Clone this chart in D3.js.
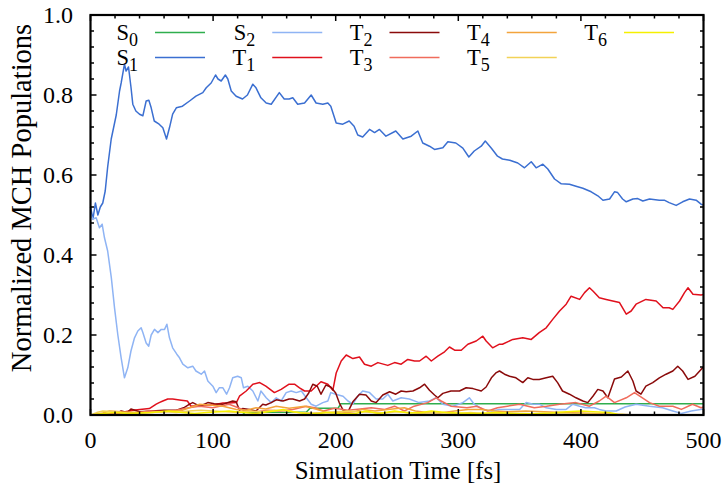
<!DOCTYPE html>
<html><head><meta charset="utf-8">
<script src="https://cdn.jsdelivr.net/npm/d3@7"></script>
<style>body{margin:0;background:#fff}svg{display:block}</style>
</head><body><svg id="c" width="725" height="489" font-family="'Liberation Serif', Tinos, 'Times New Roman', Times, 'Nimbus Roman', 'DejaVu Serif', serif"></svg>
<script>
const xTicks=[0,100,200,300,400,500];
const yTicks=[0,0.2,0.4,0.6,0.8,1.0];
const xLabel="Simulation Time [fs]";
const yLabel="Normalized MCH Populations";

const s0T=[0,124,126,176,179,202,204,500];
const s0V=[0,0,0.007,0.007,0.017,0.017,0.028,0.028];

const s1T=[0,2,4,6,8,10,12,14,16.9,21,23.7,25,27.7,29,31,33,34.5,37,40,42.7,45.4,47.6,49.5,52,56,59,62,64.4,67,70,75,80.8,86,91.6,94.4,98.4,102,104,106.6,110,112,114.8,118.8,124,128,132.4,135,139,143.3,147.4,154,158,162,165,169,174.6,180,184,189.5,193.6,196,200.4,205.8,211,215,218,222,227.6,231.7,235.7,241,249,254.8,261.6,267,271,276.5,280.6,287.4,291.5,298,303.7,308.6,313,318.7,322,327,332,336,342,348.5,354,359.5,363.5,369,373,378.5,384,390.7,396,401.6,408.4,413.8,418,423.4,427.4,430,434,437,442.4,446.4,450.5,456,464,468,472,477.7,483,488.6,494,498,500];
const s1V=[0.52,0.49,0.53,0.5,0.52,0.53,0.56,0.62,0.69,0.75,0.81,0.83,0.877,0.86,0.87,0.82,0.777,0.76,0.752,0.748,0.785,0.787,0.768,0.735,0.727,0.718,0.69,0.718,0.752,0.768,0.772,0.785,0.797,0.806,0.818,0.83,0.85,0.84,0.835,0.85,0.84,0.81,0.797,0.79,0.80,0.827,0.818,0.793,0.78,0.777,0.806,0.79,0.79,0.793,0.777,0.78,0.80,0.78,0.777,0.78,0.772,0.73,0.727,0.735,0.722,0.70,0.695,0.714,0.706,0.714,0.697,0.71,0.69,0.697,0.71,0.68,0.672,0.664,0.668,0.683,0.68,0.667,0.645,0.66,0.672,0.685,0.667,0.647,0.64,0.637,0.63,0.618,0.633,0.618,0.627,0.615,0.59,0.578,0.577,0.572,0.567,0.558,0.548,0.537,0.54,0.558,0.556,0.54,0.533,0.54,0.541,0.535,0.54,0.537,0.537,0.531,0.524,0.533,0.54,0.537,0.527,0.525];

const s2T=[0,2,4.6,7.3,9.5,11.4,14,17,19.6,22.3,25,27.7,30.4,33,35.9,38.6,41.3,42.7,45.4,47.5,49.5,52.2,55,57.7,60.4,62.3,64.4,67,70.4,72.6,75.3,79.4,83.4,86,90.3,93,95.7,99.8,102.5,105,108,111,113.4,116,120,123,124.8,128.3,132.4,136.5,139,143.3,147.4,151.5,155.5,159.6,163.7,167.8,172,176,180,184,189.5,193.6,196,200,206,210,214,218,222,227.6,233,238.4,242.5,246.6,253.4,260,268,276.5,282,287.4,295.6,303.7,309,313,320,327,333.6,341.8,350,355.4,361,366,371.7,380,388,393.4,399,404,411,415,420.6,428.8,436,445,456,466.6,475,481.8,490,500];
const s2V=[0.5,0.49,0.493,0.468,0.477,0.443,0.41,0.343,0.268,0.2,0.143,0.093,0.118,0.16,0.193,0.21,0.218,0.206,0.18,0.172,0.2,0.214,0.206,0.214,0.214,0.227,0.193,0.168,0.152,0.143,0.127,0.118,0.122,0.11,0.102,0.11,0.085,0.072,0.056,0.068,0.068,0.052,0.068,0.093,0.097,0.093,0.068,0.072,0.06,0.035,0.06,0.043,0.031,0.043,0.035,0.056,0.06,0.056,0.06,0.043,0.027,0.022,0.031,0.035,0.056,0.052,0.047,0.035,0.027,0.047,0.06,0.056,0.04,0.04,0.052,0.035,0.043,0.04,0.031,0.035,0.043,0.027,0.022,0.031,0.043,0.027,0.014,0.01,0.014,0.014,0.014,0.031,0.027,0.027,0.018,0.014,0.014,0.027,0.022,0.018,0.018,0.014,0.01,0.01,0.02,0.027,0.022,0.018,0.01,0.004,0.01,0.015];

const t1T=[0,20,34.5,48,53.6,56,59,63,67,74,79,82,91.6,99.8,108,113,119,121.5,127,132.4,138,143,150,155.5,162,166.4,170.5,174.6,180,184,188,193.6,197.7,200.4,204.5,208.6,214,219.4,223.5,229,234.4,242.5,248,253.4,258.8,264.3,268.4,273.8,278,283.3,288.8,292.8,297,302.4,307.8,314.6,320,322.7,328,333.6,336,344.5,352.6,359.5,366,371.7,377,382.6,388,392,399,403,407,409.8,415,420.6,426,431.5,437,441,445,453,461.4,467,472,475,480.5,484.5,487.4,491.4,498,500];
const t1V=[0,0.003,0.012,0.016,0.027,0.031,0.035,0.04,0.04,0.037,0.035,0.022,0.025,0.025,0.03,0.03,0.031,0.047,0.06,0.077,0.081,0.072,0.056,0.064,0.077,0.077,0.068,0.06,0.06,0.072,0.083,0.077,0.062,0.105,0.135,0.15,0.141,0.145,0.127,0.122,0.131,0.124,0.131,0.127,0.139,0.135,0.135,0.147,0.135,0.147,0.158,0.17,0.162,0.162,0.177,0.185,0.197,0.185,0.168,0.177,0.177,0.189,0.193,0.189,0.206,0.218,0.239,0.26,0.277,0.297,0.289,0.306,0.318,0.31,0.293,0.289,0.285,0.281,0.252,0.26,0.277,0.289,0.285,0.268,0.268,0.264,0.285,0.306,0.318,0.302,0.30,0.301];

const t2T=[0,20,25,30,33,40,50,60,70,76,80.8,83.4,89,95.7,101,108,116,118.8,121.5,124,129.7,135,140.5,143,147.4,151.5,157,162,165,170.5,174.6,178,181.3,185,188,192,196,200,203,206,210,214,219.4,224.7,229,233,238.4,244,249,253.4,257.5,263,268.4,272.5,276.5,280.6,283.3,287.4,294,301,306.4,312,318.7,322.7,327,331,333.6,337.7,341.8,347,352.6,356.7,360.8,366,371.7,377,381,385,390.7,396,401.6,405.6,409.8,413.8,418,422,427.4,433,438.3,442.4,445,449,453,458.6,464,469.5,475,479,483,487.4,493,498,500];
const t2V=[0,0.002,0.01,0.006,0.015,0.008,0.01,0.012,0.012,0.018,0.027,0.031,0.022,0.031,0.028,0.027,0.035,0.033,0.012,0.016,0.014,0.01,0.027,0.025,0.031,0.038,0.035,0.04,0.04,0.035,0.04,0.055,0.077,0.072,0.052,0.075,0.07,0.055,0.03,0.012,0.008,0.033,0.052,0.05,0.035,0.031,0.05,0.058,0.052,0.06,0.058,0.06,0.068,0.077,0.062,0.05,0.043,0.054,0.06,0.06,0.068,0.066,0.06,0.07,0.093,0.106,0.11,0.102,0.097,0.093,0.081,0.093,0.089,0.089,0.093,0.097,0.081,0.06,0.052,0.043,0.035,0.031,0.047,0.064,0.06,0.043,0.09,0.095,0.11,0.085,0.06,0.052,0.072,0.081,0.093,0.102,0.11,0.122,0.11,0.089,0.097,0.114,0.12];

const t3T=[0,20,40,48,60,70,80,89,99.8,113,119,125,135,145,155,165,176,182.7,190,199,210,220,229,240,248,256,264,275,282,286,294,307,315,324,332,340,350,362,372,382.6,396,407,415,420.6,427.4,437,443.7,448,456,464,475,482,491,498,500];
const t3V=[0,0.003,0.006,0.01,0.008,0.012,0.018,0.022,0.018,0.027,0.02,0.012,0.008,0.012,0.01,0.014,0.022,0.018,0.01,0.017,0.012,0.015,0.018,0.014,0.022,0.01,0.022,0.031,0.043,0.035,0.022,0.018,0.022,0.01,0.018,0.022,0.027,0.018,0.022,0.027,0.031,0.022,0.035,0.047,0.031,0.043,0.056,0.047,0.031,0.022,0.022,0.014,0.027,0.018,0.02];

const t4T=[0,10,15.5,25,40,55,67,75,80.8,89,97,108,119,127,135,143,151.5,162,170,174.6,180,187,193.6,205,215,222,232,242.5,256,265,275,285,297,308,318.7,329.5,340,355,370,385,400,410,418,425,435,450,475,500];
const t4V=[0,0.005,0.01,0.008,0.006,0.008,0.01,0.012,0.018,0.027,0.025,0.022,0.014,0.012,0.018,0.015,0.022,0.017,0.02,0.022,0.018,0.012,0.006,0.005,0.008,0.014,0.01,0.014,0.018,0.01,0.006,0.005,0.01,0.014,0.014,0.01,0.008,0.01,0.008,0.006,0.005,0.004,0.003,0.002,0.001,0,0,0];

const t5T=[0,5,10,20,30,40,50,60,70,80,90,100,110,120,130,140,150,160,170,180,190,200,210,220,230,240,250,260,270,280,290,300,310,320,330,340,350,360,370,380,390,400,410,420,430,440,460,480,500];
const t5V=[0,0.006,0.01,0.008,0.005,0.004,0.006,0.008,0.006,0.01,0.012,0.01,0.008,0.006,0.01,0.008,0.012,0.01,0.006,0.005,0.006,0.008,0.01,0.008,0.006,0.005,0.008,0.006,0.004,0.006,0.005,0.004,0.006,0.004,0.003,0.005,0.004,0.003,0.002,0.003,0.002,0.003,0.002,0.001,0,0,0,0,0];

const t6T=[0,10,20,30,40,50,64,75,85,95,105,113,125,135,145,150,157,165,175,185,193,205,215,225,235,248,260,270,278,290,300,315,330,345,360,375,388,400,410,423,430,440,500];
const t6V=[0,0.004,0.006,0.004,0.005,0.006,0.01,0.006,0.004,0.006,0.008,0.01,0.006,0.004,0.008,0.01,0.014,0.008,0.004,0.003,0.006,0.004,0.003,0.01,0.004,0.01,0.005,0.006,0.01,0.006,0.005,0.004,0.006,0.004,0.003,0.005,0.008,0.01,0.008,0.006,0.002,0,0];

const series=[
 {b:"S",s:"0",c:"#2fae4e",t:s0T,v:s0V},
 {b:"S",s:"1",c:"#3b6fd1",t:s1T,v:s1V},
 {b:"S",s:"2",c:"#8fb4f4",t:s2T,v:s2V},
 {b:"T",s:"1",c:"#e0101c",t:t1T,v:t1V},
 {b:"T",s:"2",c:"#8a0a0a",t:t2T,v:t2V},
 {b:"T",s:"3",c:"#f06c5c",t:t3T,v:t3V},
 {b:"T",s:"4",c:"#f3a43c",t:t4T,v:t4V},
 {b:"T",s:"5",c:"#f2d257",t:t5T,v:t5V},
 {b:"T",s:"6",c:"#f5f000",t:t6T,v:t6V}
];

const svg=d3.select("#c");
const L=90.5,R=703.5,T=15,B=415;
const x=d3.scaleLinear().domain([0,500]).range([L,R]);
const y=d3.scaleLinear().domain([0,1]).range([B,T]);

const plot=svg.append("g");
const line=d3.line().x(d=>x(d[0])).y(d=>y(d[1]));
series.forEach(s=>{
  const pts=s.t.map((t,i)=>[t,s.v[i]]);
  plot.append("path").attr("d",line(pts)).attr("fill","none").attr("stroke",s.c).attr("stroke-width",1.5).attr("stroke-linejoin","round");
});

const g=svg.append("g").attr("stroke","#000");
const xMinor=d3.range(0,501,20), yMinor=d3.range(0,1.0001,0.04);
xMinor.forEach(v=>{
  const maj=xTicks.includes(v); const len=maj?6:3.5;
  g.append("line").attr("x1",x(v)).attr("x2",x(v)).attr("y1",B).attr("y2",B-len).attr("stroke-width",1.5);
  g.append("line").attr("x1",x(v)).attr("x2",x(v)).attr("y1",T).attr("y2",T+len).attr("stroke-width",1.5);
});
yMinor.forEach(v=>{
  const maj=yTicks.some(t=>Math.abs(t-v)<1e-6); const len=maj?6:3.5;
  g.append("line").attr("y1",y(v)).attr("y2",y(v)).attr("x1",L).attr("x2",L+len).attr("stroke-width",1.5);
  g.append("line").attr("y1",y(v)).attr("y2",y(v)).attr("x1",R).attr("x2",R-len).attr("stroke-width",1.5);
});
svg.append("rect").attr("x",L).attr("y",T).attr("width",R-L).attr("height",B-T).attr("fill","none").attr("stroke","#000").attr("stroke-width",2.2);

const fs=22.5, tfs=24;
svg.append("g").selectAll("text").data(xTicks).join("text")
  .attr("x",d=>x(d)).attr("y",448).attr("text-anchor","middle").attr("font-size",tfs).text(d=>d);
svg.append("g").selectAll("text").data(yTicks).join("text")
  .attr("x",73).attr("y",d=>y(d)+8).attr("text-anchor","end").attr("font-size",tfs).text(d=>d.toFixed(1));
svg.append("text").attr("x",398).attr("y",479).attr("text-anchor","middle").attr("font-size",24.8).text(xLabel);
svg.append("text").attr("transform","translate(31,198) rotate(-90)").attr("text-anchor","middle").attr("font-size",28.5).text(yLabel);

const leg=svg.append("g");
series.forEach((s,i)=>{
  const col=Math.floor(i/2), row=i%2;
  const lx=155+col*117.25, ly=32.5+row*25;
  leg.append("line").attr("x1",lx).attr("x2",lx+50).attr("y1",ly).attr("y2",ly).attr("stroke",s.c).attr("stroke-width",1.5);
  const tx=leg.append("text").attr("x",lx-17).attr("y",ly+7.5).attr("text-anchor","end").attr("font-size",fs);
  tx.append("tspan").text(s.b);
  tx.append("tspan").attr("dy",6).attr("font-size",fs*0.8).text(s.s);
});
</script></body></html>
